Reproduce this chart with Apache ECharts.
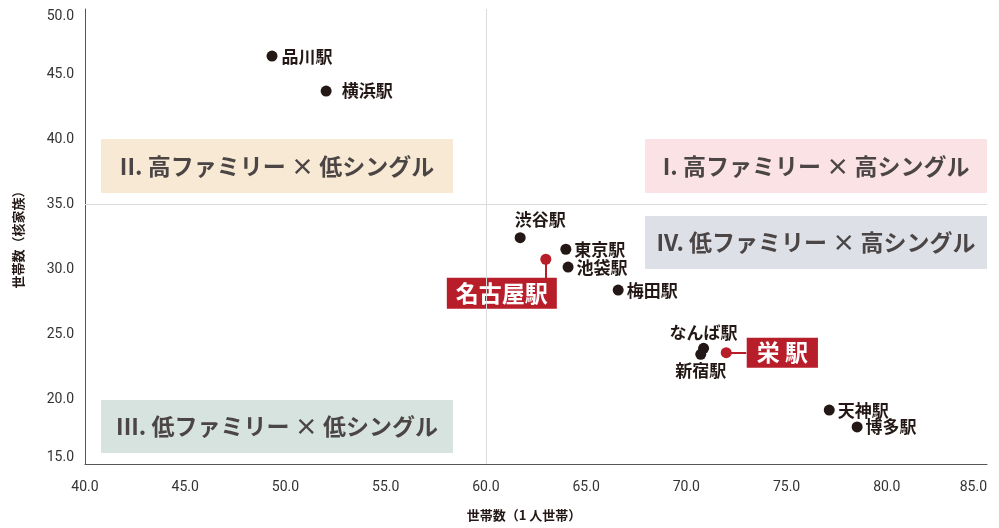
<!DOCTYPE html>
<html><head><meta charset="utf-8">
<script src="https://cdn.jsdelivr.net/npm/echarts@6/dist/echarts.min.js"></script>
<style>html,body{margin:0;padding:0;background:#fff}#c{width:999px;height:528px}</style>
</head><body><div id="c"></div>
<script>
// ---- data ----
const stations   = ['品川駅','横浜駅','渋谷駅','東京駅','池袋駅','梅田駅','なんば駅','新宿駅','天神駅','博多駅'];
const singleHH   = [49.33, 52.03, 61.71, 63.99, 64.10, 66.60, 70.86, 70.72, 77.13, 78.52];
const familyHH   = [46.38, 43.69, 32.41, 31.52, 30.15, 28.38, 23.90, 23.44, 19.15, 17.85];
const highlightStations = ['名古屋駅', '栄 駅'];
const highlightSingle   = [62.99, 71.99];
const highlightFamily   = [30.75, 23.56];
const quadrantLabels = ['I. 高ファミリー × 高シングル','II. 高ファミリー × 低シングル','III. 低ファミリー × 低シングル','IV. 低ファミリー × 高シングル'];
const xAxisName = '世帯数（1 人世帯）';
const yAxisName = '世帯数（核家族）';
const xMin = 40, xMax = 85, yMin = 15, yMax = 50, tickStep = 5;
const xMid = 60, yMid = 35;

// ---- styling ----
const FONT = '"Noto Sans CJK JP", "Noto Sans", sans-serif';
const INK = '#231815';
const RED = '#b81d2a';
const labelPlace = {
  '品川駅': {position:'right', distance:4},
  '横浜駅': {position:'right', distance:10},
  '渋谷駅': {position:'top', distance:4, offset:[20,0]},
  '東京駅': {position:'right', distance:3},
  '池袋駅': {position:'right', distance:3},
  '梅田駅': {position:'right', distance:3},
  'なんば駅': {position:'top', distance:2},
  '新宿駅': {position:'bottom', distance:2},
  '天神駅': {position:'right', distance:3},
  '博多駅': {position:'right', distance:3}
};
const boxColors = ['#fbe3e5','#f7e9d3','#d6e3df','#dde1e7'];

const chart = echarts.init(document.getElementById('c'), null, {renderer:'canvas'});

const blackData = stations.map((n,i)=>({
  name:n, value:[singleHH[i], familyHH[i]],
  label: Object.assign({show:true}, labelPlace[n])
}));
const redData = highlightStations.map((n,i)=>({name:n, value:[highlightSingle[i], highlightFamily[i]]}));

// connector stubs from each highlighted point toward its label box
const connectors = [
  [{coord:[highlightSingle[0], highlightFamily[0]]}, {coord:[highlightSingle[0], highlightFamily[0]-1.5]}],
  [{coord:[highlightSingle[1], highlightFamily[1]]}, {coord:[highlightSingle[1]+1.0, highlightFamily[1]]}]
];

const qText = {show:true, position:'inside', fontFamily:FONT, fontSize:23, fontWeight:'bold', color:'#4b4545'};
const areas = [
  [{xAxis:67.94, yAxis:40.0, itemStyle:{color:boxColors[0]}, label:Object.assign({formatter:quadrantLabels[0]}, qText)}, {xAxis:85, yAxis:35.85}],
  [{xAxis:40.8, yAxis:40.0, itemStyle:{color:boxColors[1]}, label:Object.assign({formatter:quadrantLabels[1]}, qText)}, {xAxis:58.36, yAxis:35.85}],
  [{xAxis:40.8, yAxis:19.92, itemStyle:{color:boxColors[2]}, label:Object.assign({formatter:quadrantLabels[2]}, qText)}, {xAxis:58.36, yAxis:15.85}],
  [{xAxis:67.94, yAxis:34.08, itemStyle:{color:boxColors[3]}, label:Object.assign({formatter:quadrantLabels[3]}, qText)}, {xAxis:85, yAxis:30.0}]
];

chart.setOption({
  animation:false,
  textStyle:{fontFamily:FONT},
  grid:{left:85, right:12, top:9, bottom:64, containLabel:false},
  xAxis:{
    type:'value', min:xMin, max:xMax, interval:tickStep,
    name:xAxisName, nameLocation:'middle', nameGap:45,
    nameTextStyle:{fontFamily:FONT, fontSize:13, fontWeight:'bold', color:INK, padding:[0,24,0,0]},
    axisLine:{show:true, lineStyle:{color:'#555', width:1}},
    axisTick:{show:false}, splitLine:{show:false},
    axisLabel:{formatter:v=>v.toFixed(1), fontFamily:'Roboto, sans-serif', fontSize:14, color:'#333', margin:16, alignMaxLabel:'right'}
  },
  yAxis:{
    type:'value', min:yMin, max:yMax, interval:tickStep,
    name:yAxisName, nameLocation:'middle', nameGap:60, nameRotate:90,
    nameTextStyle:{fontFamily:FONT, fontSize:13, fontWeight:'bold', color:INK},
    axisLine:{show:true, lineStyle:{color:'#555', width:1}},
    axisTick:{show:false}, splitLine:{show:false},
    axisLabel:{formatter:v=>v.toFixed(1), fontFamily:'Roboto, sans-serif', fontSize:14, color:'#333', margin:11,
      verticalAlignMaxLabel:'top', verticalAlignMinLabel:'bottom'}
  },
  series:[
    {
      type:'scatter', name:'stations', symbol:'circle', symbolSize:11, z:3,
      itemStyle:{color:INK, opacity:1},
      label:{show:true, formatter:'{b}', fontFamily:FONT, fontSize:17, fontWeight:'bold', color:INK},
      data:blackData,
      markArea:{silent:true, z:1, data:areas},
      markLine:{silent:true, symbol:'none', label:{show:false},
        lineStyle:{color:'#dcdcdc', width:1, type:'solid'},
        data:[{xAxis:xMid},{yAxis:yMid}]}
    },
    {
      type:'scatter', name:'highlight', symbol:'circle', symbolSize:11, z:4,
      itemStyle:{color:RED, opacity:1},
      label:{show:true, formatter:'{b}', fontFamily:FONT, fontSize:23, lineHeight:25, fontWeight:'bold', color:'#fff',
        backgroundColor:RED, padding:[3,9,3,9]},
      data:[
        Object.assign(redData[0], {label:{position:'bottom', distance:2}}),
        Object.assign(redData[1], {label:{position:'right', distance:2, padding:[3,10,2,10]}})
      ],
      labelLayout:function(p){
        if(p.dataIndex===0) return {dx:-44, dy:11};
        return {dx:13, dy:0};
      },
      markLine:{silent:true, symbol:'none', label:{show:false}, z:2,
        lineStyle:{color:RED, width:2, type:'solid', opacity:1},
        data:connectors}
    }
  ]
});
</script>
</body></html>
